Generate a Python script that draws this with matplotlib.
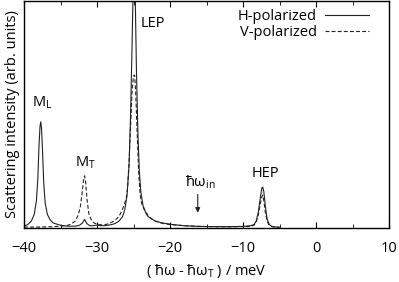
import numpy as np
import matplotlib
matplotlib.use("Agg")
import matplotlib.pyplot as plt
from matplotlib.ticker import MultipleLocator

plt.rcParams['font.family'] = ['Open Sans', 'DejaVu Sans']
plt.rcParams['mathtext.fontset'] = 'custom'
plt.rcParams['mathtext.rm'] = 'Open Sans'
plt.rcParams['mathtext.it'] = 'Open Sans:italic'

# H-polarized spectrum
h_x = [-40.0, -39.5, -39.0, -38.6, -38.3, -38.1, -37.95, -37.8, -37.7, -37.6,
       -37.45, -37.3, -37.1, -36.8, -36.4, -36.0, -35.0, -34.0, -33.0, -32.4,
       -32.0, -31.7, -31.4, -31.0, -30.5, -30.0, -29.5, -29.0, -28.0, -27.5,
       -27.0, -26.5, -26.2, -25.9, -25.6, -25.4, -25.2, -25.05, -24.9, -24.75,
       -24.6, -24.4, -24.2, -24.0, -23.7, -23.3, -23.0, -22.0, -21.0, -20.0,
       -19.0, -18.0, -16.0, -14.0, -12.0, -10.0, -9.0, -8.5, -8.2, -7.9,
       -7.6, -7.4, -7.3, -7.15, -6.95, -6.7, -6.4, -6.0, -5.0]
h_y = [0.008, 0.015, 0.03, 0.06, 0.12, 0.22, 0.36, 0.45, 0.468, 0.44,
       0.33, 0.2, 0.11, 0.06, 0.035, 0.022, 0.012, 0.008, 0.008, 0.012,
       0.022, 0.038, 0.02, 0.01, 0.01, 0.013, 0.01, 0.01, 0.015, 0.02,
       0.03, 0.05, 0.08, 0.14, 0.28, 0.5, 0.8, 1.05, 1.2, 1.0,
       0.7, 0.42, 0.25, 0.16, 0.1, 0.065, 0.05, 0.03, 0.022, 0.017,
       0.013, 0.01, 0.007, 0.006, 0.006, 0.007, 0.01, 0.015, 0.03, 0.07,
       0.14, 0.178, 0.18, 0.16, 0.1, 0.04, 0.015, 0.006, 0.003]

# V-polarized spectrum
v_x = [-40.0, -38.0, -36.0, -35.0, -34.0, -33.5, -33.0, -32.6, -32.3, -32.05,
       -31.85, -31.7, -31.55, -31.35, -31.1, -30.7, -30.3, -30.0, -29.5, -29.0,
       -28.5, -28.0, -27.5, -27.0, -26.6, -26.3, -26.0, -25.8, -25.6, -25.4,
       -25.2, -25.0, -24.85, -24.7, -24.5, -24.3, -24.1, -23.9, -23.6, -23.3,
       -23.0, -22.5, -22.0, -21.0, -20.0, -18.0, -16.0, -12.0, -9.0, -8.5,
       -8.2, -7.9, -7.6, -7.4, -7.3, -7.15, -6.95, -6.7, -6.4, -6.0, -5.0]
v_y = [0.004, 0.004, 0.006, 0.008, 0.012, 0.018, 0.03, 0.055, 0.09, 0.15,
       0.21, 0.23, 0.2, 0.12, 0.06, 0.03, 0.02, 0.018, 0.014, 0.014,
       0.018, 0.025, 0.035, 0.05, 0.075, 0.1, 0.13, 0.18, 0.3, 0.45,
       0.6, 0.67, 0.674, 0.6, 0.42, 0.25, 0.15, 0.11, 0.085, 0.07,
       0.055, 0.04, 0.03, 0.02, 0.015, 0.01, 0.007, 0.005, 0.007, 0.012,
       0.025, 0.06, 0.11, 0.14, 0.145, 0.12, 0.07, 0.03, 0.012, 0.006, 0.003]

fs = 10.5
fig = plt.figure(figsize=(3.99, 2.82), dpi=100)
ax = fig.add_axes([24 / 399, 1 - 228 / 282, 365 / 399, 227 / 282])

ax.plot(h_x, h_y, color='#222222', lw=0.8, label='H-polarized')
ax.plot(v_x, v_y, color='#222222', lw=0.8, ls=(0, (3.5, 2)), label='V-polarized')

ax.set_xlim(-40, 10)
ax.set_ylim(0, 1)
ax.xaxis.set_major_locator(MultipleLocator(10))
ax.xaxis.set_minor_locator(MultipleLocator(5))
ax.tick_params(axis='x', which='both', direction='in', top=True, labelsize=fs, pad=9)
ax.tick_params(axis='x', which='major', length=4)
ax.tick_params(axis='x', which='minor', length=3)
ax.set_yticks([])
for s in ax.spines.values():
    s.set_linewidth(1.0)

ax.set_xlabel(r'( ħω - ħω$_\mathrm{T}$ ) / meV', fontsize=fs, labelpad=5)
ax.set_ylabel('Scattering intensity (arb. units)', fontsize=fs, labelpad=3)

ax.text(-37.5, 0.55, r'M$_\mathrm{L}$', ha='center', va='center', fontsize=fs)
ax.text(-31.65, 0.286, r'M$_\mathrm{T}$', ha='center', va='center', fontsize=fs)
ax.text(-22.3, 0.9, 'LEP', ha='center', va='center', fontsize=fs)
ax.text(-6.9, 0.24, 'HEP', ha='center', va='center', fontsize=fs)
ax.text(-15.9, 0.20, r'ħω$_\mathrm{in}$', ha='center', va='center', fontsize=fs)
ax.annotate('', xy=(-16.2, 0.055), xytext=(-16.2, 0.16),
            arrowprops=dict(arrowstyle='-|>', color='#222222', lw=0.8,
                            mutation_scale=7))

ax.legend(loc='upper right', bbox_to_anchor=((369 - 24) / 365, 0.963),
          frameon=False, markerfirst=False, fontsize=fs,
          handlelength=3.0, labelspacing=0.05, borderaxespad=0, borderpad=0,
          handletextpad=0.6)

fig.savefig('out.png', dpi=100)
